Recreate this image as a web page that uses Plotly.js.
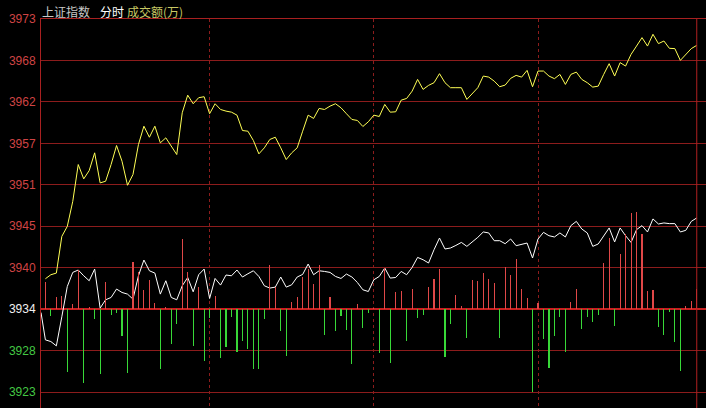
<!DOCTYPE html>
<html><head><meta charset="utf-8">
<script src="https://cdn.plot.ly/plotly-3.0.1.min.js"></script>
<style>html,body{margin:0;padding:0;background:#000;overflow:hidden}#chart{width:706px;height:408px;}
.bars path{shape-rendering:crispEdges;}</style>
</head><body><div id="chart"></div>
<script>
// ---- data ----
const yTickLabels = ['3923','3928','3934','3940','3945','3951','3957','3962','3968','3973'];
const prevClose = 3934;
const openWhite = 3933.54;
const priceYellow = [
3938.07,3938.61,3938.83,3943.75,3945.09,3948.45,3953.38,3951.46,3952.57,3954.95,
3950.92,3951.14,3953.38,3955.93,3953.82,3950.60,3952.04,3956.06,3958.52,3957.04,
3958.52,3956.29,3956.96,3955.84,3954.72,3960.32,3962.68,3961.53,3962.34,3962.47,
3960.19,3961.53,3960.76,3960.54,3960.40,3960.00,3957.94,3957.85,3956.60,3954.81,
3955.62,3956.74,3957.04,3955.62,3954.05,3954.95,3955.62,3957.85,3960.00,3959.56,
3960.90,3960.76,3961.21,3961.53,3960.99,3960.19,3959.42,3959.29,3958.48,3959.11,
3960.00,3959.82,3961.44,3960.40,3960.45,3962.01,3962.24,3963.22,3964.79,3963.45,
3963.99,3964.35,3965.56,3964.35,3963.68,3963.68,3963.68,3962.11,3962.87,3963.68,
3965.24,3965.10,3964.56,3963.81,3964.03,3964.93,3965.33,3965.10,3966.00,3963.81,
3965.91,3965.91,3965.24,3964.89,3965.46,3964.12,3965.46,3965.77,3964.79,3964.35,
3963.76,3963.89,3965.46,3966.90,3965.24,3967.04,3966.58,3968.15,3969.26,3970.39,
3969.26,3970.84,3969.59,3969.94,3968.96,3968.92,3967.34,3968.06,3968.92,3969.36];
const priceWhite = [
3929.88,3929.65,3929.07,3932.97,3937.03,3938.92,3939.24,3938.47,3937.80,3939.37,
3934.13,3935.25,3935.56,3936.69,3936.23,3936.01,3935.34,3938.47,3940.58,3939.14,
3938.83,3936.01,3937.80,3935.56,3935.25,3937.13,3938.24,3936.32,3938.61,3939.37,
3935.42,3938.11,3937.22,3938.57,3938.47,3939.24,3938.30,3938.74,3939.14,3938.38,
3937.13,3936.82,3936.95,3938.30,3936.95,3937.26,3938.30,3938.65,3940.04,3938.61,
3939.14,3939.05,3938.92,3938.38,3938.11,3938.70,3938.30,3937.57,3936.59,3936.36,
3937.93,3938.38,3939.51,3938.16,3938.24,3939.05,3938.61,3939.59,3940.93,3940.62,
3940.18,3941.96,3943.53,3942.06,3942.19,3942.54,3942.94,3942.41,3943.00,3943.62,
3944.34,3944.21,3943.17,3943.17,3942.77,3943.40,3942.50,3942.63,3942.86,3940.85,
3943.40,3944.29,3943.84,3943.67,3944.21,3943.67,3945.19,3945.76,3944.74,3944.21,
3942.41,3942.73,3943.75,3944.88,3943.00,3944.88,3943.84,3942.94,3944.65,3945.19,
3944.34,3946.09,3945.41,3945.55,3945.46,3945.46,3944.34,3944.56,3945.76,3946.22];
const turnover = [
 266, -73, 120, 133,-627,  53, 386,-740,  17, -94,
-647, 273, -57, -34,-264,-634, 466, 366, 186, 293,
  60,-600,  26,-350,-150, 703, 366,-364, 216,-514,
 -90, 133,-490,-374, -80,-430,-323,-400,-600,-600,
-100, 443, 220,-223,-463,  70, 120, 320, 400, 253,
 443,-263, 120,-223, -73,-213,-550,  53,-190, -40,
  10,-440, 410,-533, 167, 177,-323, 203, -90, -63,
 220, 303, 403,-480,-150, 143,  33,-285, 293, 283,
 360, 300, 260,-290, 420, 343, 500, 203, 110,-823,
  60,-300,-590,-273, -83,-433,  70, 200,-200, -80,
-133, -63, 460, 710,-167, 553, 750, 960, 970, 753,
 183, 193,-183,-257, -33,-333,-613,  33,  83, 200];
const hourMarks = [30, 60, 90];
const titleParts = ['上证指数', '分时', '成交额(万)'];

// ---- build ----
const idx = priceYellow.map((_, i) => i);
const step = 50 / 9;
const yRange = [prevClose - 2.386 * step, prevClose + 7 * step];
const tickVals = yTickLabels.map((_, k) => prevClose + (k - 2) * step);
const labelColor = k => k > 2 ? '#d04444' : (k === 2 ? '#f0f0f0' : '#44c844');
const tickText = yTickLabels.map((t, k) => `<span style="color:${labelColor(k)}">${t}</span>`);
const turnoverPerPoint = 74.46;
const y2Range = yRange.map(v => (v - prevClose) * turnoverPerPoint);
const xRange = [-0.804, -0.804 + 665 / 5.4735];

const traces = [
  { type: 'bar', x: idx, y: turnover, yaxis: 'y2', width: 0.2,
    marker: { color: turnover.map(v => v >= 0 ? '#e04848' : '#38d838'), line: { width: 0 } },
    hoverinfo: 'skip' },
  { type: 'scatter', mode: 'lines', x: [xRange[0]].concat(idx), y: [openWhite].concat(priceWhite),
    line: { color: '#ffffff', width: 1 }, hoverinfo: 'skip' },
  { type: 'scatter', mode: 'lines', x: idx, y: priceYellow,
    line: { color: '#ffff55', width: 1 }, hoverinfo: 'skip' }
];

const layout = {
  width: 706, height: 408,
  paper_bgcolor: '#000', plot_bgcolor: '#000',
  margin: { l: 41, r: 0, t: 19, b: 0, pad: 0 },
  showlegend: false, bargap: 0,
  font: { family: 'Liberation Sans, Arial, sans-serif', size: 12 },
  xaxis: { range: xRange, tickvals: hourMarks, showticklabels: false, ticks: '',
    showgrid: true, gridcolor: '#8c1c1c', griddash: 'dot', gridwidth: 1,
    zeroline: false, showline: true, side: 'top', linecolor: '#a82020', linewidth: 1, fixedrange: true },
  yaxis: { range: yRange, tickvals: tickVals, ticktext: tickText, ticks: '', ticklabelstandoff: 2,
    tickfont: { family: 'Liberation Sans, Arial, sans-serif', size: 12, color: '#d04444' },
    showgrid: true, gridcolor: '#8c1c1c', gridwidth: 1, zeroline: false,
    showline: true, linecolor: '#a82020', linewidth: 1, fixedrange: true },
  yaxis2: { overlaying: 'y', side: 'right', range: y2Range, showgrid: false, showticklabels: false,
    zeroline: true, zerolinecolor: '#c82020', zerolinewidth: 2, ticks: '', fixedrange: true },
  shapes: [
    { type: 'line', xref: 'x', yref: 'paper', x0: idx[idx.length - 1], x1: idx[idx.length - 1], y0: 0, y1: 1,
      line: { color: '#b02020', width: 1 } }
  ],
  annotations: [
    { xref: 'paper', yref: 'paper', x: 0, y: 1, xanchor: 'left', yanchor: 'middle', xshift: -1, yshift: 8,
      text: titleParts[0], showarrow: false, font: { family: 'Noto Sans CJK SC', size: 12, color: '#c8c8c8' } },
    { xref: 'paper', yref: 'paper', x: 0, y: 1, xanchor: 'left', yanchor: 'middle', xshift: 57, yshift: 8,
      text: titleParts[1], showarrow: false, font: { family: 'Noto Sans CJK SC', size: 12, color: '#ffffff' } },
    { xref: 'paper', yref: 'paper', x: 0, y: 1, xanchor: 'left', yanchor: 'middle', xshift: 84, yshift: 8,
      text: titleParts[2], showarrow: false, font: { family: 'Noto Sans CJK SC', size: 12, color: '#c8c864' } }
  ]
};

Plotly.newPlot('chart', traces, layout, { staticPlot: true, displayModeBar: false });
</script>
</body></html>
